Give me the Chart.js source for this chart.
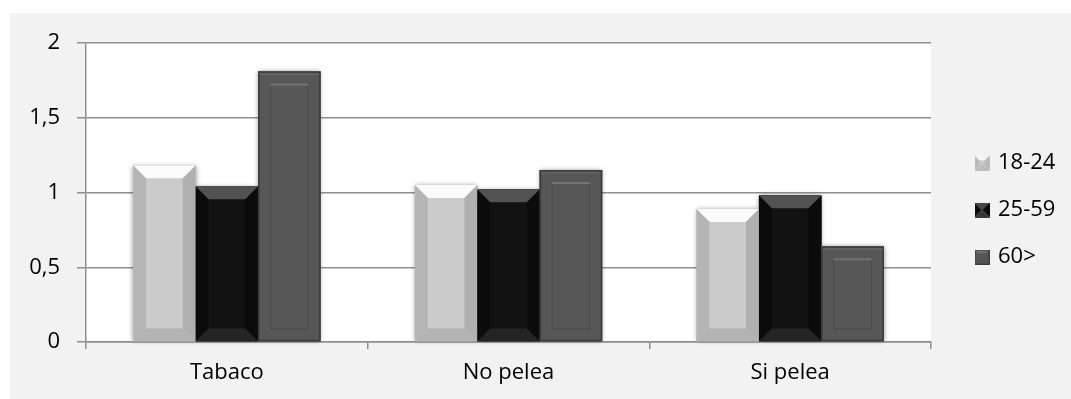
<!DOCTYPE html>
<html>
<head>
<meta charset="utf-8">
<script src="https://cdn.jsdelivr.net/npm/chart.js@4/dist/chart.umd.min.js"></script>
<style>
  html, body { margin: 0; padding: 0; background: #ffffff; }
  #wrap { width: 1071px; height: 399px; }
</style>
</head>
<body>
<div id="wrap"><canvas id="c" width="1071" height="399"></canvas></div>
<script>
// Data
const categories = ['Tabaco', 'No pelea', 'Si pelea'];
const seriesNames = ['18-24', '25-59', '60>'];
const values1824 = [1.18, 1.05, 0.89];
const values2559 = [1.04, 1.02, 0.98];
const values60 = [1.81, 1.15, 0.64];
const yTickValues = [0, 0.5, 1, 1.5, 2];
const yTickLabels = ['0', '0,5', '1', '1,5', '2'];

// Bevel looks for each series
const bevelStyles = [
  { kind: 'bevel', face: '#cbcbcb', top: '#fbfbfb', left: '#b5b5b5', right: '#b0b0b0', bottom: '#b3b3b3', size: 13 },
  { kind: 'bevel', face: '#121212', top: '#525252', left: '#0b0b0b', right: '#0b0b0b', bottom: '#242424', size: 13 },
  { kind: 'frame', face: '#575757', edge: '#3b3b3b', glow: '#6c6c6c', inner: 12 }
];

function poly(ctx, pts, color) {
  ctx.beginPath();
  ctx.moveTo(pts[0][0], pts[0][1]);
  for (let i = 1; i < pts.length; i++) ctx.lineTo(pts[i][0], pts[i][1]);
  ctx.closePath();
  ctx.fillStyle = color;
  ctx.fill();
}

function drawBevelRect(ctx, L, T, R, B, st) {
  const w = R - L, h = B - T;
  if (st.kind === 'bevel') {
    const b = Math.min(st.size, w / 2, h / 2);
    poly(ctx, [[L, T], [R, T], [R - b, T + b], [L + b, T + b]], st.top);
    poly(ctx, [[L, T], [L + b, T + b], [L + b, B - b], [L, B]], st.left);
    poly(ctx, [[R, T], [R, B], [R - b, B - b], [R - b, T + b]], st.right);
    poly(ctx, [[L, B], [R, B], [R - b, B - b], [L + b, B - b]], st.bottom);
    ctx.fillStyle = st.face;
    ctx.fillRect(L + b, T + b, w - 2 * b, h - 2 * b);
  } else {
    const m = Math.min(st.inner, w / 3, h / 3);
    ctx.fillStyle = st.face;
    ctx.fillRect(L, T, w, h);
    const g = ctx.createLinearGradient(0, T, 0, T + 5);
    g.addColorStop(0, st.glow);
    g.addColorStop(1, st.face);
    ctx.fillStyle = g;
    ctx.fillRect(L, T, w, Math.min(5, h));
    ctx.lineWidth = 1;
    ctx.strokeStyle = '#4a4a4a';
    ctx.strokeRect(L + m + 0.5, T + m + 0.5, w - 2 * m - 1, h - 2 * m - 1);
    ctx.strokeStyle = '#737373';
    ctx.lineWidth = 2;
    ctx.beginPath();
    ctx.moveTo(L + m, T + m + 1);
    ctx.lineTo(R - m, T + m + 1);
    ctx.stroke();
    ctx.lineWidth = 1.5;
    ctx.strokeStyle = st.edge;
    ctx.strokeRect(L + 0.75, T + 0.75, w - 1.5, h - 1.5);
  }
}

// Small bevelled squares for the legend
function legendIcon(i) {
  const cv = document.createElement('canvas');
  cv.width = 15; cv.height = 15;
  const ctx = cv.getContext('2d');
  const st = bevelStyles[i];
  if (i === 0) {
    drawBevelRect(ctx, 0, 0, 15, 15, Object.assign({}, st, { size: 5, top: '#f6f6f6', left: '#b9b9b9', right: '#b9b9b9', bottom: '#bdbdbd', face: '#c8c8c8' }));
  } else if (i === 1) {
    drawBevelRect(ctx, 0, 0, 15, 15, Object.assign({}, st, { size: 7.5, top: '#474747', bottom: '#363636', left: '#0a0a0a', right: '#0a0a0a' }));
  } else {
    ctx.fillStyle = '#555555';
    ctx.fillRect(0, 0, 15, 15);
    poly(ctx, [[0, 0], [15, 0], [11, 4], [4, 4]], '#6e6e6e');
    ctx.strokeStyle = '#3c3c3c';
    ctx.lineWidth = 1;
    ctx.strokeRect(0.5, 0.5, 14, 14);
  }
  return cv;
}

function barRect(el) {
  const p = el.getProps(['x', 'y', 'base', 'width'], true);
  return { L: p.x - p.width / 2, R: p.x + p.width / 2, T: Math.min(p.y, p.base), B: Math.max(p.y, p.base) };
}

const panelPlugin = {
  id: 'panel',
  beforeDraw(chart) {
    const { ctx, chartArea: a } = chart;
    ctx.save();
    ctx.fillStyle = '#ffffff';
    ctx.fillRect(0, 0, chart.width, chart.height);
    ctx.fillStyle = '#f2f2f2';
    ctx.fillRect(10, 13, chart.width - 10, chart.height - 13);
    ctx.fillStyle = '#ffffff';
    ctx.fillRect(a.left, a.top, a.right - a.left, a.bottom - a.top);
    ctx.restore();
  },
  afterLayout(chart) {
    const lg = chart.legend;
    if (lg) {
      lg.left = chart.chartArea.right + 21;
      lg.right = chart.width;
      lg.top = 43;
      lg.bottom = 377;
    }
  },
  beforeDatasetsDraw(chart) {
    const ctx = chart.ctx;
    ctx.save();
    ctx.shadowColor = 'rgba(0,0,0,0.45)';
    ctx.shadowBlur = 5;
    chart.data.datasets.forEach((ds, i) => {
      chart.getDatasetMeta(i).data.forEach(el => {
        const r = barRect(el);
        ctx.fillStyle = bevelStyles[i].face;
        ctx.fillRect(r.L, r.T, r.R - r.L, r.B - r.T);
      });
    });
    ctx.restore();
  },
  afterDatasetsDraw(chart) {
    const ctx = chart.ctx;
    ctx.save();
    chart.data.datasets.forEach((ds, i) => {
      chart.getDatasetMeta(i).data.forEach(el => {
        const r = barRect(el);
        drawBevelRect(ctx, r.L, r.T, r.R, r.B, bevelStyles[i]);
      });
    });
    ctx.restore();
  }
};

const font = { family: "'Open Sans', sans-serif", size: 22 };
const axisGray = '#8e8e8e';
const textColor = '#000000';
const allSeries = [values1824, values2559, values60];

new Chart(document.getElementById('c'), {
  type: 'bar',
  data: {
    labels: categories,
    datasets: seriesNames.map((name, i) => ({
      label: name,
      data: allSeries[i],
      backgroundColor: bevelStyles[i].face,
      borderWidth: 0,
      barPercentage: 1,
      categoryPercentage: 0.665
    }))
  },
  options: {
    responsive: false,
    animation: false,
    devicePixelRatio: 1,
    layout: { padding: { left: 10, top: 43, right: 40, bottom: 2 } },
    plugins: {
      tooltip: { enabled: false },
      legend: {
        position: 'right',
        maxWidth: 100,
        labels: {
          usePointStyle: true,
          boxWidth: 10,
          boxHeight: 10,
          padding: 25,
          color: textColor,
          font: font,
          generateLabels(chart) {
            return chart.data.datasets.map((ds, i) => ({
              text: ds.label,
              pointStyle: legendIcon(i),
              fillStyle: bevelStyles[i].face,
              strokeStyle: bevelStyles[i].face,
              lineWidth: 0,
              hidden: false,
              datasetIndex: i,
              fontColor: textColor
            }));
          }
        }
      }
    },
    scales: {
      x: {
        afterFit(scale) { scale.height = 55; },
        grid: { drawOnChartArea: false, drawTicks: true, tickLength: 7, color: axisGray, lineWidth: 1.5, offset: true },
        border: { display: true, color: axisGray, width: 1.5 },
        ticks: { color: textColor, font: font, padding: 11 }
      },
      y: {
        min: 0,
        max: 2,
        afterFit(scale) { scale.width = 76; },
        grid: { color: axisGray, lineWidth: 1.5, tickLength: 9, drawTicks: true },
        border: { display: true, color: axisGray, width: 1.5 },
        ticks: {
          stepSize: 0.5,
          color: textColor,
          font: font,
          padding: 17,
          callback(value) {
            const k = yTickValues.indexOf(value);
            return k >= 0 ? yTickLabels[k] : '';
          }
        }
      }
    }
  },
  plugins: [panelPlugin]
});
</script>
</body>
</html>
